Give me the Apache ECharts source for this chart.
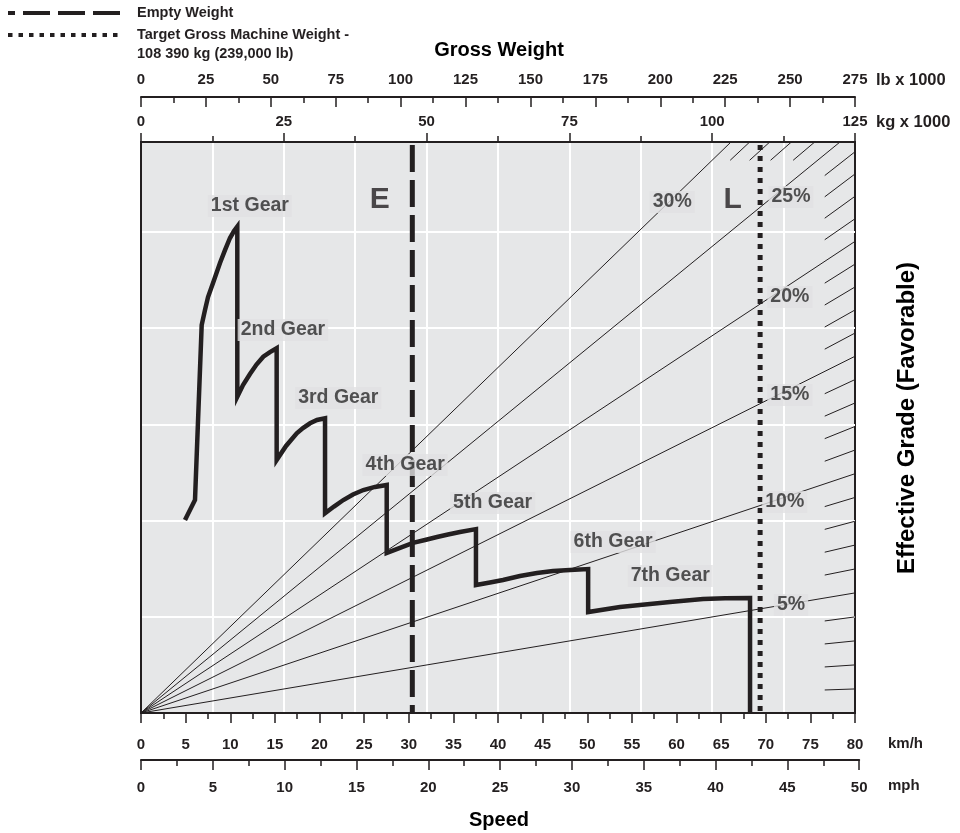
<!DOCTYPE html>
<html>
<head>
<meta charset="utf-8">
<script src="https://cdn.jsdelivr.net/npm/echarts@6/dist/echarts.min.js"></script>
<style>
html,body{margin:0;padding:0;background:#ffffff;}
#chart{width:960px;height:833px;}
</style>
</head>
<body>
<div id="chart"></div>
<script>
// ---------------- DATA ----------------
// Retarding performance curve: speed (km/h) and effective rimpull (tonne-force)
const curveSpeedKmh = [4.93, 6.05, 6.80, 7.17, 7.51, 8.07, 8.85, 9.41, 9.97, 10.42, 10.79, 10.79,
  11.43, 12.21, 12.94, 13.70, 14.45, 15.20, 15.20,
  16.25, 17.45, 18.15, 18.94, 19.72, 20.62, 20.62,
  21.62, 22.67, 23.75, 24.91, 26.22, 27.53, 27.53,
  29.02, 30.48, 31.82, 33.17, 34.40, 35.74, 37.53, 37.53,
  39.10, 40.56, 42.46, 44.37, 46.16, 48.07, 50.10, 50.10,
  53.67, 56.47, 59.27, 62.97, 65.44, 68.24, 68.24];
const curveRimpull  = [10.03, 11.07, 20.17, 20.95, 21.62, 22.35, 23.39, 24.06, 24.69, 25.05, 25.28, 16.44,
  17.05, 17.62, 18.11, 18.52, 18.76, 18.96, 13.15,
  13.88, 14.54, 14.81, 15.06, 15.23, 15.32, 10.38,
  10.73, 11.07, 11.36, 11.59, 11.75, 11.85, 8.32,
  8.58, 8.84, 8.99, 9.15, 9.28, 9.41, 9.56, 6.65,
  6.78, 6.91, 7.12, 7.28, 7.38, 7.43, 7.48, 5.25,
  5.51, 5.64, 5.77, 5.93, 5.96, 5.98, 0];

// Gear labels (anchored at speed km/h, rimpull)
const gearLabels      = ['1st Gear', '2nd Gear', '3rd Gear', '4th Gear', '5th Gear', '6th Gear', '7th Gear'];
const gearLabelSpeed  = [12.2, 15.9, 22.1, 29.6, 39.4, 52.9, 59.3];
const gearLabelPull   = [26.35, 19.91, 16.37, 12.89, 10.91, 8.89, 7.12];

// Effective grade lines (%)
const majorGrades      = [5, 10, 15, 20, 25, 30];
const gradeLabels      = ['5%', '10%', '15%', '20%', '25%', '30%'];
const gradeLabelWeight = [113.8, 112.7, 113.6, 113.6, 113.8, 93.0];
const gradeLabelPull   = [5.61, 10.97, 16.53, 21.62, 26.82, 26.56];
const minorGrades      = [1, 2, 3, 4, 6, 7, 8, 9, 11, 12, 13, 14, 16, 17, 18, 19, 21, 22, 23, 24, 26, 27, 28, 29];

// Weights (kg x 1000)
const emptyWeight  = 47.5;
const targetWeight = 108.39;
const weightMarkLabels = ['E', 'L'];
const weightMarkX      = [41.8, 103.6];
const weightMarkY      = [26.66, 26.66];

// Axis ranges
const kmhMax = 80, mphMax = 50, kgMax = 125, lbMax = 275, pullMax = 29.68;
const hatchStartWeight = 119.7;

// ---------------- BUILD ----------------
const INK = '#231f20';
const FONT = "'Liberation Sans', Arial, Helvetica, sans-serif";
const G = { left: 141, top: 142, width: 714, height: 571 };
const mphGridWidth = G.width * (mphMax * 1.609344) / kmhMax;

const curveData = curveSpeedKmh.map((s, i) => [s, curveRimpull[i]]);

function gradeSin(g) { return Math.sin(Math.atan(g / 100)); }
function gradeEnd(g) {
  const s = gradeSin(g);
  const r = kgMax * s;
  return r <= pullMax ? [kgMax, r] : [pullMax / s, pullMax];
}
const majorLines = majorGrades.map(g => ({ coords: [[0, 0], gradeEnd(g)] }));
const hatchLines = minorGrades.map(g => {
  const s = gradeSin(g);
  const end = gradeEnd(g);
  let start;
  if (end[0] >= kgMax) start = [hatchStartWeight, hatchStartWeight * s];
  else start = [(pullMax - 0.95) / s, pullMax - 0.95];
  return { coords: [start, end] };
});

const labelText = (size) => ({ fontFamily: FONT, fontWeight: 'bold', fontSize: size, color: INK });
const tickLbl = { color: INK, fontFamily: FONT, fontWeight: 'bold', fontSize: 15 };
const txt = (x, y, text, size, extra) => ({ type: 'text', x: x, y: y,
  style: Object.assign({ text: text, fontFamily: FONT, fontWeight: 'bold', fontSize: size, fill: INK, verticalAlign: 'middle' }, extra || {}) });

const option = {
  animation: false,
  backgroundColor: '#ffffff',
  grid: [
    { left: G.left, top: G.top, width: G.width, height: G.height, show: true,
      backgroundColor: '#e6e7e8', borderColor: INK, borderWidth: 2 },
    { left: G.left, top: G.top, width: mphGridWidth, height: G.height, show: false }
  ],
  xAxis: [
    { // km/h
      type: 'value', gridIndex: 0, position: 'bottom', min: 0, max: kmhMax, interval: 5,
      axisLine: { show: true, onZero: false, lineStyle: { color: INK, width: 2 } },
      axisTick: { show: true, length: 10, lineStyle: { color: INK, width: 1.5 } },
      minorTick: { show: true, splitNumber: 2, length: 6, lineStyle: { color: INK, width: 1.5 } },
      axisLabel: Object.assign({ margin: 24 }, tickLbl),
      splitLine: { show: false }
    },
    { // kg x 1000
      type: 'value', gridIndex: 0, position: 'top', min: 0, max: kgMax, interval: 25,
      axisLine: { show: true, onZero: false, lineStyle: { color: INK, width: 2 } },
      axisTick: { show: true, length: 9, lineStyle: { color: INK, width: 1.5 } },
      minorTick: { show: true, splitNumber: 2, length: 6, lineStyle: { color: INK, width: 1.5 } },
      axisLabel: Object.assign({ margin: 13 }, tickLbl),
      splitLine: { show: true, showMinLine: false, showMaxLine: false, lineStyle: { color: '#ffffff', width: 2 } },
      minorSplitLine: { show: true, lineStyle: { color: '#ffffff', width: 2 } }
    },
    { // lb x 1000
      type: 'value', gridIndex: 0, position: 'top', offset: 45, min: 0, max: lbMax, interval: 25,
      axisLine: { show: true, onZero: false, lineStyle: { color: INK, width: 2 } },
      axisTick: { show: true, inside: true, length: 10, lineStyle: { color: INK, width: 1.5 } },
      minorTick: { show: true, splitNumber: 2, length: 6, lineStyle: { color: INK, width: 1.5 } },
      axisLabel: Object.assign({ margin: 10 }, tickLbl),
      splitLine: { show: false }
    },
    { // mph
      type: 'value', gridIndex: 1, position: 'bottom', offset: 47, min: 0, max: mphMax, interval: 5,
      axisLine: { show: true, onZero: false, lineStyle: { color: INK, width: 2 } },
      axisTick: { show: true, length: 10, lineStyle: { color: INK, width: 1.5 } },
      minorTick: { show: true, splitNumber: 2, length: 6, lineStyle: { color: INK, width: 1.5 } },
      axisLabel: Object.assign({ margin: 20 }, tickLbl),
      splitLine: { show: false }
    }
  ],
  yAxis: [
    { type: 'value', gridIndex: 0, min: 0, max: pullMax, interval: 5,
      axisLine: { show: true, onZero: false, lineStyle: { color: INK, width: 2 } },
      axisTick: { show: false }, axisLabel: { show: false },
      splitLine: { show: true, showMinLine: false, showMaxLine: false, lineStyle: { color: '#ffffff', width: 2 } } },
    { type: 'value', gridIndex: 1, min: 0, max: 1, show: false }
  ],
  graphic: [
    { type: 'line', shape: { x1: 8, y1: 13, x2: 122, y2: 13 },
      style: { stroke: INK, lineWidth: 4, lineDash: [27, 8], lineDashOffset: 20 } },
    { type: 'line', shape: { x1: 8, y1: 35, x2: 122, y2: 35 },
      style: { stroke: INK, lineWidth: 4, lineDash: [4.5, 6] } },
    txt(137, 13, 'Empty Weight', 14.5),
    txt(137, 35, 'Target Gross Machine Weight -', 14.5),
    txt(137, 54, '108 390 kg (239,000 lb)', 14.5),
    txt(499, 50, 'Gross Weight', 20, { fill: '#000', align: 'center' }),
    txt(876, 80, 'lb x 1000', 16.5),
    txt(876, 122, 'kg x 1000', 16.5),
    txt(888, 744, 'km/h', 15),
    txt(888, 786, 'mph', 15),
    txt(499, 820, 'Speed', 20, { fill: '#000', align: 'center' }),
    Object.assign(txt(907, 418, 'Effective Grade (Favorable)', 24, { fill: '#000', align: 'center' }), { rotation: Math.PI / 2 })
  ],
  series: [
    { // mph axis carrier
      type: 'scatter', xAxisIndex: 3, yAxisIndex: 1, data: [], silent: true },
    { // major grade lines
      type: 'lines', coordinateSystem: 'cartesian2d', xAxisIndex: 1, yAxisIndex: 0, silent: true, z: 2,
      data: majorLines, lineStyle: { color: INK, width: 1, opacity: 1 } },
    { // grade hatch marks
      type: 'lines', coordinateSystem: 'cartesian2d', xAxisIndex: 1, yAxisIndex: 0, silent: true, z: 2,
      data: hatchLines, lineStyle: { color: INK, width: 1, opacity: 1 } },
    { // empty weight
      name: 'Empty Weight', type: 'line', xAxisIndex: 1, yAxisIndex: 0, z: 3, symbol: 'none', silent: true,
      data: [[emptyWeight, pullMax - 0.15], [emptyWeight, 0]],
      lineStyle: { color: INK, width: 5, type: [27, 8], cap: 'butt' } },
    { // target gross weight
      name: 'Target Gross Machine Weight', type: 'line', xAxisIndex: 1, yAxisIndex: 0, z: 3, symbol: 'none', silent: true,
      data: [[targetWeight, pullMax - 0.15], [targetWeight, 0]],
      lineStyle: { color: INK, width: 5, type: [5, 6], cap: 'butt' } },
    { // retarding curve
      type: 'line', xAxisIndex: 0, yAxisIndex: 0, z: 4, symbol: 'none', silent: true,
      data: curveData, lineStyle: { color: INK, width: 4.5, join: 'miter', cap: 'butt' } },
    { // grade labels
      type: 'scatter', xAxisIndex: 1, yAxisIndex: 0, z: 6, symbolSize: 1, silent: true,
      itemStyle: { color: 'rgba(0,0,0,0)' },
      data: gradeLabels.map((t, i) => ({ name: t, value: [gradeLabelWeight[i], gradeLabelPull[i]] })),
      label: Object.assign({ show: true, position: 'inside', formatter: '{b}', backgroundColor: '#e1e1e2', padding: [1, 3] }, labelText(19.5), { color: '#2b2b2b' }) },
    { // gear labels
      type: 'scatter', xAxisIndex: 0, yAxisIndex: 0, z: 6, symbolSize: 1, silent: true,
      itemStyle: { color: 'rgba(0,0,0,0)' },
      data: gearLabels.map((t, i) => ({ name: t, value: [gearLabelSpeed[i], gearLabelPull[i]] })),
      label: Object.assign({ show: true, position: 'inside', formatter: '{b}', backgroundColor: '#e1e1e2', padding: [1, 3] }, labelText(19.5), { color: '#2b2b2b' }) },
    { // E / L marks
      type: 'scatter', xAxisIndex: 1, yAxisIndex: 0, z: 6, symbolSize: 1, silent: true,
      itemStyle: { color: 'rgba(0,0,0,0)' },
      data: weightMarkLabels.map((t, i) => ({ name: t, value: [weightMarkX[i], weightMarkY[i]] })),
      label: Object.assign({ show: true, position: 'inside', formatter: '{b}' }, labelText(30)) }
  ]
};

const chart = echarts.init(document.getElementById('chart'), null, { renderer: 'canvas' });
chart.setOption(option);
</script>
</body>
</html>
